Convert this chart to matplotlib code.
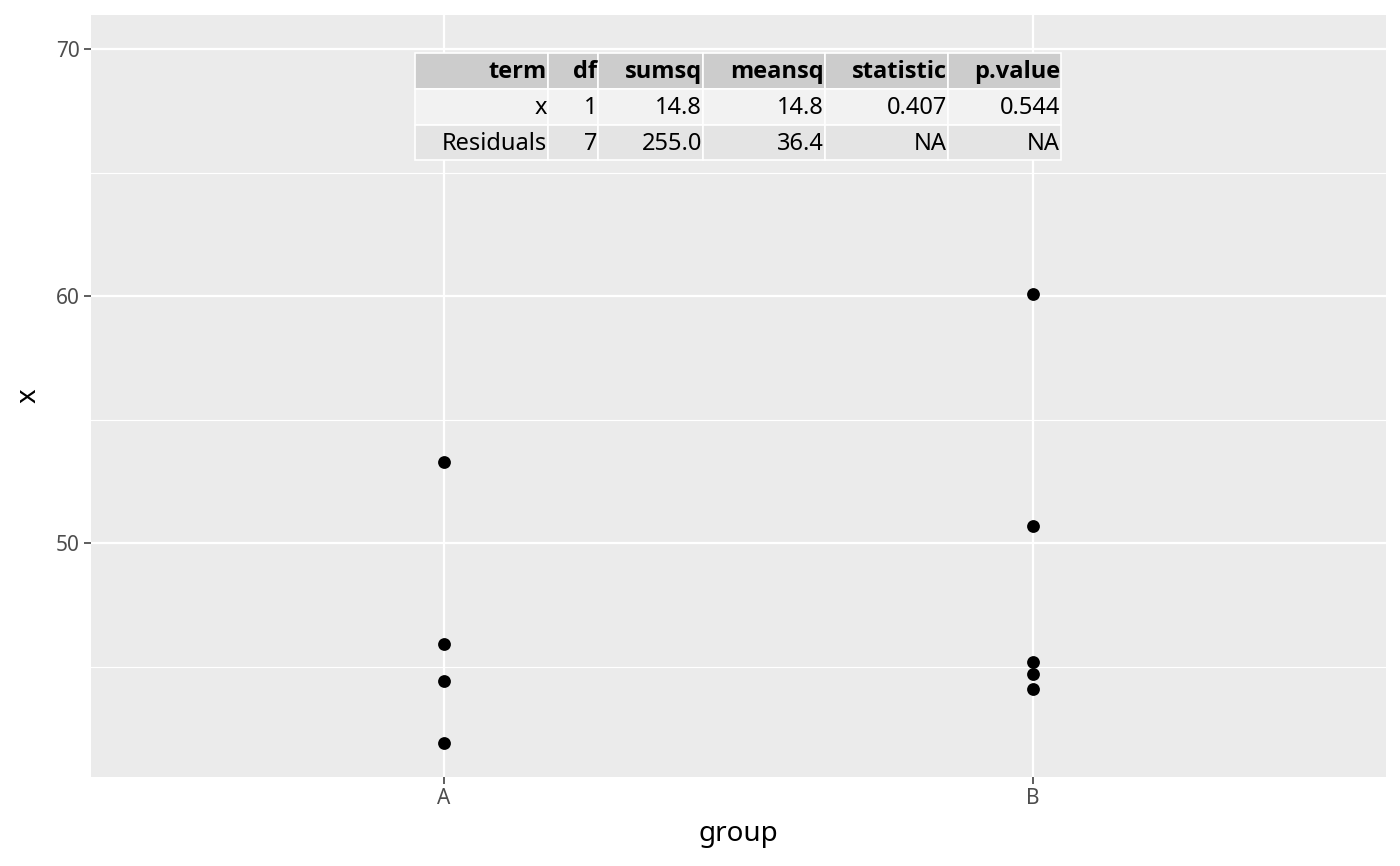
"""Dot plot of x by group with an ANOVA table inset, ggplot-like styling."""

import matplotlib

matplotlib.use("Agg")
import matplotlib.pyplot as plt
from matplotlib import font_manager as fm
from matplotlib.patches import Rectangle

plt.rcParams["font.family"] = ["Noto Sans", "DejaVu Sans"]

# data
GROUPS = ["A", "B"]
A_VALUES = [53.3, 45.9, 44.4, 41.9]
B_VALUES = [60.1, 50.7, 45.2, 44.7, 44.1]

TABLE_HEADER = ["term", "df", "sumsq", "meansq", "statistic", "p.value"]
TABLE_ROWS = [
    ["x", "1", "14.8", "14.8", "0.407", "0.544"],
    ["Residuals", "7", "255.0", "36.4", "NA", "NA"],
]

PANEL_BG = "#EBEBEB"
TICK_COLOR = "#4D4D4D"

# bold face for the header; fall back if Noto Sans has no bold installed
bold_path = fm.findfont(fm.FontProperties(family="Noto Sans", weight="bold"))
if "bold" in bold_path.lower():
    BOLD_FAMILY = ["Noto Sans"]
else:
    BOLD_FAMILY = ["Open Sans", "DejaVu Sans"]

fig = plt.figure(figsize=(14, 8.66), dpi=100)
ax = fig.add_axes([91 / 1400, 1 - 777 / 866, 1295 / 1400, 762 / 866])
ax.set_facecolor(PANEL_BG)
for sp in ax.spines.values():
    sp.set_visible(False)

# grid (ggplot style: minor then major, white)
for y in [45, 55, 65]:
    ax.axhline(y, color="white", linewidth=0.8, zorder=0.5)
for y in [50, 60, 70]:
    ax.axhline(y, color="white", linewidth=1.6, zorder=0.6)
for x in [1, 2]:
    ax.axvline(x, color="white", linewidth=1.6, zorder=0.6)

ax.scatter([1] * len(A_VALUES), A_VALUES, s=85, color="black",
           linewidths=0, zorder=3)
ax.scatter([2] * len(B_VALUES), B_VALUES, s=85, color="black",
           linewidths=0, zorder=3)

ax.set_xlim(0.4, 2.6)
ax.set_ylim(40.53, 71.38)
ax.set_xticks([1, 2])
ax.set_xticklabels(GROUPS)
ax.set_yticks([50, 60, 70])
ax.tick_params(axis="both", length=5, width=1.1, color="#333333",
               labelcolor=TICK_COLOR, labelsize=15, pad=3)
ax.set_xlabel("group", fontsize=20, labelpad=8)
ax.set_ylabel("x", fontsize=20, labelpad=10)

# table inset drawn in figure pixel coordinates
col_edges = [415, 548, 598, 703, 825, 948, 1061]
row_edges = [53, 89, 125, 160]
row_fills = ["#CCCCCC", "#F2F2F2", "#E4E4E4"]


def to_fig(px, py):
    return px / 1400, 1 - py / 866


rows = [TABLE_HEADER] + TABLE_ROWS
for r, row in enumerate(rows):
    y0, y1 = row_edges[r], row_edges[r + 1]
    for c, txt in enumerate(row):
        x0, x1 = col_edges[c], col_edges[c + 1]
        fx, fy = to_fig(x0, y1)
        rect = Rectangle((fx, fy), (x1 - x0) / 1400, (y1 - y0) / 866,
                         transform=fig.transFigure, facecolor=row_fills[r],
                         edgecolor="white", linewidth=1.2, zorder=4)
        fig.patches.append(rect)
        tx, ty = to_fig(x1 - 1, (y0 + y1) / 2 + 1)
        if r == 0:
            fig.text(tx, ty, txt, ha="right", va="center", fontsize=17,
                     family=BOLD_FAMILY, fontweight="bold",
                     color="black", zorder=5)
        else:
            fig.text(tx, ty, txt, ha="right", va="center", fontsize=17,
                     color="black", zorder=5)

fig.savefig("out.png", dpi=100, facecolor="white")
